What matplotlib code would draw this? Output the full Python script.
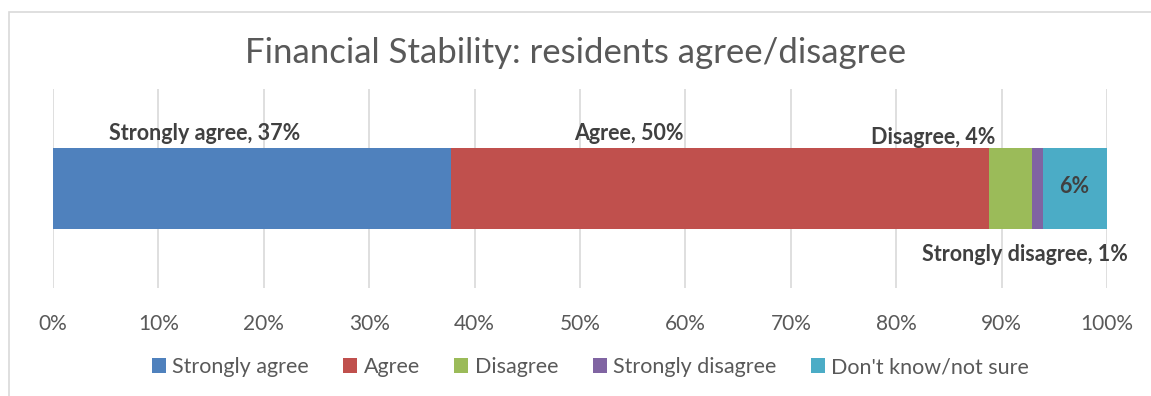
import matplotlib.pyplot as plt
from matplotlib.patches import Rectangle
from matplotlib.ticker import PercentFormatter

plt.rcParams['font.family'] = ['Lato', 'DejaVu Sans']

# Survey responses (percent of residents)
categories = ['Strongly agree', 'Agree', 'Disagree', 'Strongly disagree', "Don't know/not sure"]
values = [37, 50, 4, 1, 6]
colors = ['#4F81BD', '#C0504D', '#9BBB59', '#8064A2', '#4BACC6']

# 100% stacked: normalise the counts
total = sum(values)
shares = [v / total * 100 for v in values]

fig = plt.figure(figsize=(11.51, 3.96), dpi=100)
ax = fig.add_axes([0.0461, 0.2727, 0.9157, 0.5026])

left = 0
for cat, share, col in zip(categories, shares, colors):
    ax.barh(0, share, left=left, height=0.407, color=col, label=cat, zorder=3)
    left += share

ax.set_xlim(0, 100)
ax.set_ylim(-0.5, 0.5)
ax.set_xticks(range(0, 101, 10))
ax.xaxis.set_major_formatter(PercentFormatter(decimals=0))
ax.set_yticks([])
ax.grid(axis='x', color='#D9D9D9', linewidth=1.2, zorder=0)
for s in ax.spines.values():
    s.set_visible(False)
ax.tick_params(axis='x', length=0, pad=19, labelsize=15, labelcolor='#595959')

# Data labels
lab = dict(fontsize=15.5, fontweight='bold', color='#404040', ha='center', va='center')
ax.text(14.4, 0.275, f'{categories[0]}, {values[0]}%', **lab)
ax.text(54.6, 0.275, f'{categories[1]}, {values[1]}%', **lab)
ax.text(83.5, 0.255, f'{categories[2]}, {values[2]}%', **lab)
ax.text(92.2, -0.33, f'{categories[3]}, {values[3]}%', **lab)
ax.text(96.9, 0.01, f'{values[4]}%', **lab)

fig.suptitle('Financial Stability: residents agree/disagree', y=0.865, va='center',
             fontsize=25, color='#595959')

fig.legend(loc='center', bbox_to_anchor=(0.513, 0.073), ncol=5, frameon=False,
           fontsize=15.5, labelcolor='#595959', handlelength=0.65, handleheight=0.65,
           handletextpad=0.3, columnspacing=1.6)

# Chart area border
fig.patches.append(Rectangle((9 / 1151, -0.1), 1.2, 1 - 11.5 / 396 + 0.1,
                             transform=fig.transFigure, fill=False,
                             edgecolor='#D9D9D9', linewidth=1.2))

fig.savefig('out.png', dpi=100)
